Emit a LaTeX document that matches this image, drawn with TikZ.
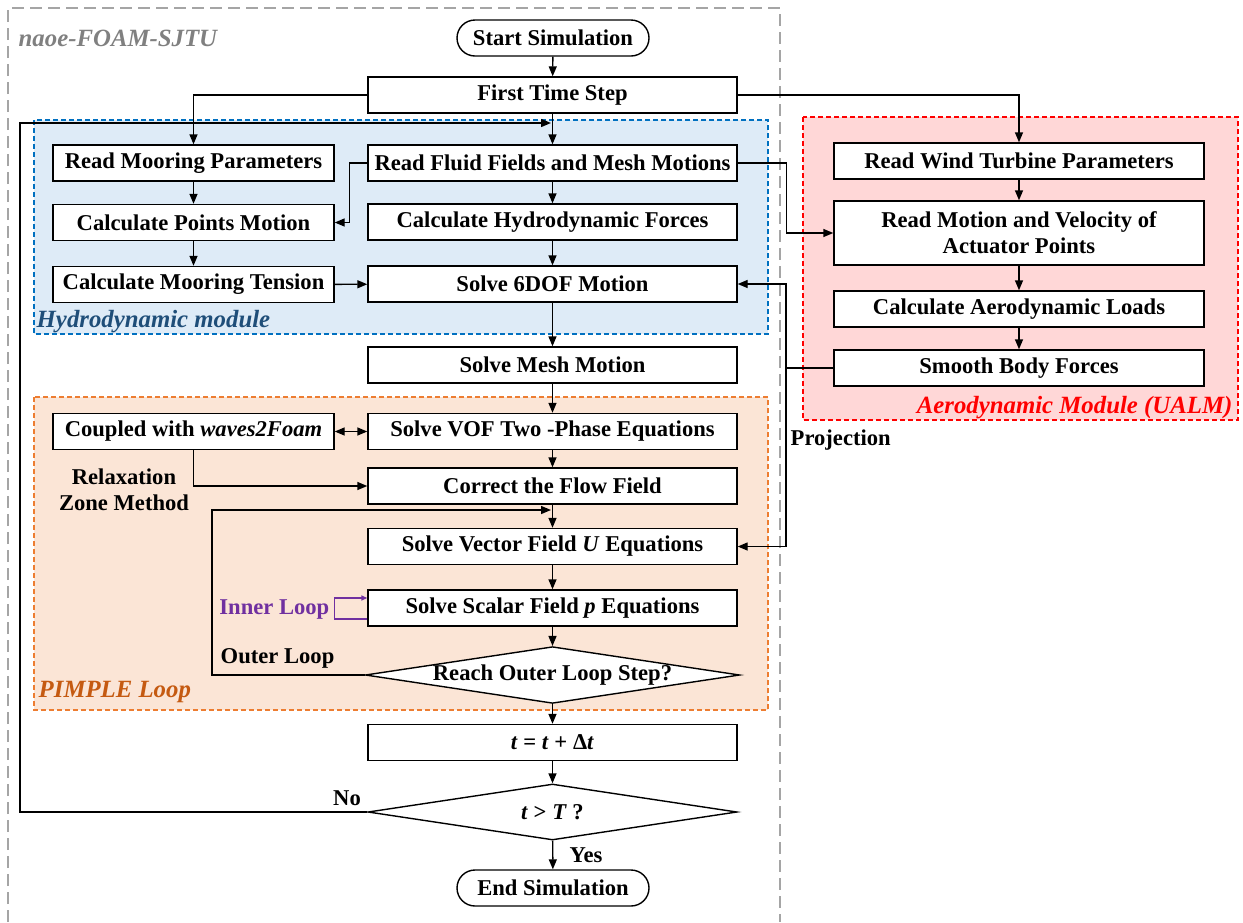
\documentclass[tikz,border=0pt]{standalone}
\usepackage{fontspec}
\setmainfont{Liberation Serif}
\usepackage{xcolor}
\usepackage{tikz}
\usetikzlibrary{shapes.geometric,arrows.meta}

\definecolor{hydrofill}{RGB}{222,235,247}
\definecolor{hydroline}{RGB}{0,112,192}
\definecolor{hydrotext}{RGB}{31,78,121}
\definecolor{pimplefill}{RGB}{251,229,214}
\definecolor{pimpleline}{RGB}{237,125,49}
\definecolor{pimpletext}{RGB}{197,90,17}
\definecolor{aerofill}{RGB}{255,215,215}
\definecolor{innerpurple}{RGB}{112,48,160}
\definecolor{framegray}{RGB}{165,165,165}
\definecolor{titlegray}{RGB}{128,128,128}

\begin{document}
\begin{tikzpicture}[x=0.5pt, y=-0.5pt, line width=0.7pt,
    font=\fontsize{11.3}{13}\selectfont\bfseries,
    box/.style={draw, fill=white, minimum height=18pt, inner sep=1pt},
    mainbox/.style={box, minimum width=184.5pt},
    sidebox/.style={box, minimum width=140.5pt},
    aerobox/.style={box, minimum width=185pt, align=center},
    term/.style={draw, fill=white, rounded corners=9pt, minimum width=96pt, minimum height=18pt, inner sep=1pt},
    decide/.style={draw, fill=white, diamond, aspect=6.6, minimum width=184.5pt, minimum height=28pt, inner sep=0pt},
    arr/.style={-{Triangle[length=5pt,width=4pt]}},
    tag/.style={inner sep=0pt, font=\fontsize{12.4}{14}\selectfont\bfseries\itshape}]

    \useasboundingbox (0,0) rectangle (1243,922);

%regions
    \draw[framegray, dash pattern=on 6pt off 3pt] (8,922) -- (8,8) -- (780,8) -- (780,922);
    \draw[hydroline, dash pattern=on 2.5pt off 1.5pt, fill=hydrofill] (34,120) rectangle (768,334);
    \draw[pimpleline, dash pattern=on 2.5pt off 1.5pt, fill=pimplefill] (34,397) rectangle (768,710);
    \draw[red, dash pattern=on 2.5pt off 1.5pt, fill=aerofill] (803,117) rectangle (1238,420);

    \coordinate (lb) at (20,123);
    \coordinate (le) at (551,123);
    \coordinate (pj) at (786,368);
    \coordinate (oc) at (212,510);
    \coordinate (oe) at (551,510);

%main column
    \node[term] (start) at (553,38) {Start Simulation};
    \node[mainbox] (first) at (552.5,95) {First Time Step};
    \node[mainbox] (fluid) at (552.5,163) {Read Fluid Fields and Mesh Motions};
    \node[mainbox] (hydro) at (552.5,222) {Calculate Hydrodynamic Forces};
    \node[mainbox] (sixdof) at (552.5,284) {Solve 6DOF Motion};
    \node[mainbox] (mesh) at (552.5,365) {Solve Mesh Motion};
    \node[mainbox] (vof) at (552.5,431.5) {Solve VOF Two -Phase Equations};
    \node[mainbox] (corr) at (552.5,486) {Correct the Flow Field};
    \node[mainbox] (vecu) at (552.5,546.5) {Solve Vector Field \textit{U} Equations};
    \node[mainbox] (scap) at (552.5,608) {Solve Scalar Field \textit{p} Equations};
    \node[decide] (outer) at (552.5,675) {Reach Outer Loop Step?};
    \node[mainbox] (tstep) at (552.5,742.5) {\textit{t} = \textit{t} + Δ\textit{t}};
    \node[decide] (tcheck) at (552.5,812) {\textit{t} > \textit{T} ?};
    \node[term] (stop) at (553,888) {End Simulation};

%mooring column
    \node[sidebox] (mpar) at (193.5,163) {Read Mooring Parameters};
    \node[sidebox] (pmot) at (193.5,222.5) {Calculate Points Motion};
    \node[sidebox] (mten) at (193.5,284.5) {Calculate Mooring Tension};
    \node[sidebox] (waves) at (193.5,431.5) {Coupled with \textit{waves2Foam}};

%aero column
    \node[aerobox] (wtp) at (1019,161) {Read Wind Turbine Parameters};
    \node[aerobox, minimum height=32pt] (actp) at (1019,233) {Read Motion and Velocity of\\Actuator Points};
    \node[aerobox] (aero) at (1019,309) {Calculate Aerodynamic Loads};
    \node[aerobox] (smooth) at (1019,368) {Smooth Body Forces};

%connectors
    \draw[arr] (start) -- (first);
    \draw[arr] (first.west) -| (mpar.north);
    \draw[arr] (first.east) -| (wtp.north);
    \draw[arr] (first) -- (fluid);
    \draw[arr] (tcheck.west) -| (lb) -- (le);
    \draw[arr] (mpar) -- (pmot);
    \draw[arr] (pmot) -- (mten);
    \draw[arr] (fluid.west) -- ++(-18,0) |- (pmot.east);
    \draw[arr] (mten) -- (sixdof);
    \draw[arr] (fluid) -- (hydro);
    \draw[arr] (hydro) -- (sixdof);
    \draw[arr] (sixdof) -- (mesh);
    \draw[arr] (fluid.east) -- ++(49,0) |- (actp.west);
    \draw[arr] (wtp) -- (actp);
    \draw[arr] (actp) -- (aero);
    \draw[arr] (aero) -- (smooth);
    \draw (smooth.west) -- (pj);
    \draw[arr] (pj) |- (sixdof.east);
    \draw[arr] (pj) |- (vecu.east);
    \draw[arr] (mesh) -- (vof);
    \draw[{Triangle[length=5pt,width=4pt]}-{Triangle[length=5pt,width=4pt]}] (waves) -- (vof);
    \draw[arr] (waves.south) |- (corr.west);
    \draw[arr] (vof) -- (corr);
    \draw[arr] (corr) -- (vecu);
    \draw[arr] (vecu) -- (scap);
    \draw[arr] (scap) -- (outer);
    \draw[arr] (outer.west) -| (oc) -- (oe);
    \draw[innerpurple, -{Triangle[length=3pt,width=2.5pt]}] ([yshift=-5.5pt]scap.west) -- ++(-33,0) |- ([yshift=5pt]scap.west);
    \draw[arr] (outer) -- (tstep);
    \draw[arr] (tstep) -- (tcheck);
    \draw[arr] (tcheck) -- (stop);

%labels
    \node[tag, titlegray, anchor=west] at (18,38) {naoe-FOAM-SJTU};
    \node[tag, hydrotext, anchor=west] at (36,322) {Hydrodynamic module};
    \node[tag, pimpletext, anchor=west] at (38,692) {PIMPLE Loop};
    \node[tag, red, anchor=east] at (1233,408) {Aerodynamic Module (UALM)};
    \node[align=center] at (124,490) {Relaxation\\Zone Method};
    \node[innerpurple, inner sep=0pt, anchor=east] at (330,609) {Inner Loop};
    \node[inner sep=0pt, anchor=west] at (220,658) {Outer Loop};
    \node[inner sep=0pt, anchor=west] at (790,440) {Projection};
    \node at (347,798) {No};
    \node at (586,855) {Yes};

\end{tikzpicture}
\end{document}
